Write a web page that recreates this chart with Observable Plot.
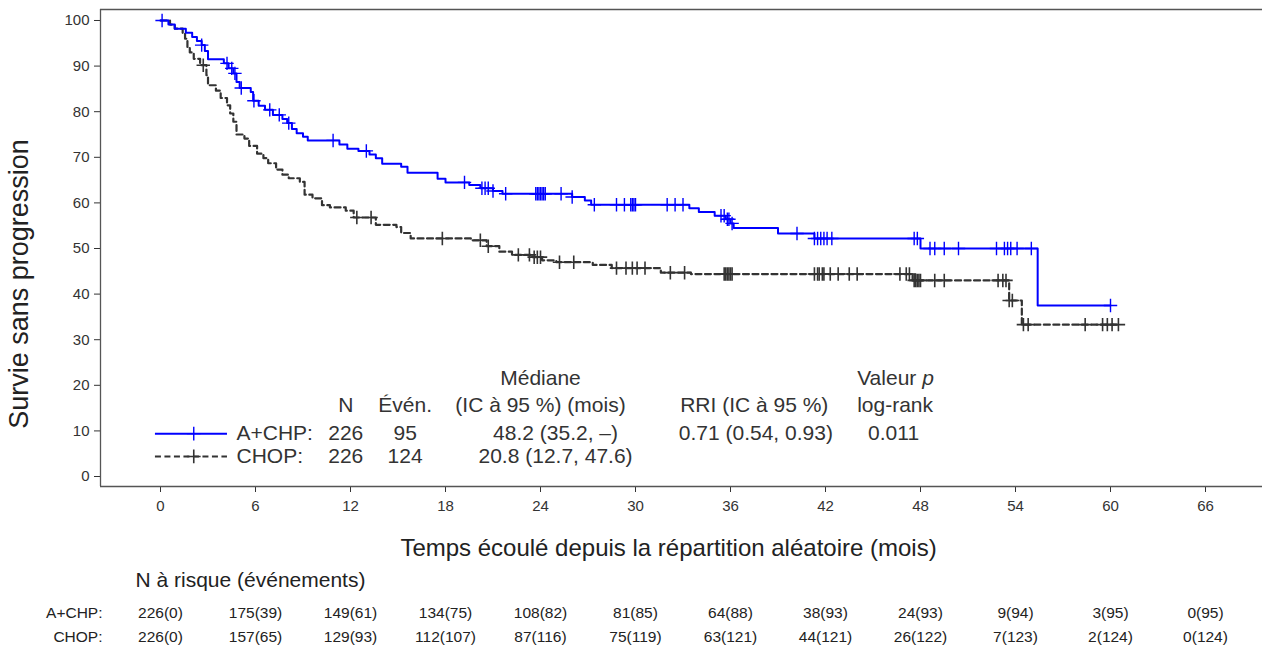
<!DOCTYPE html>
<html><head><meta charset="utf-8">
<script src="https://cdn.jsdelivr.net/npm/d3@7"></script>
<script src="https://cdn.jsdelivr.net/npm/@observablehq/plot@0.6"></script>
<style>body{margin:0;background:#fff;overflow:hidden} svg{display:block}</style>
</head><body><div id="chart"></div>
<script>
// ---------- data ----------
const groups = ["A+CHP", "CHOP"];

const achpTimes = [0, 0.5, 0.9, 1.6, 2.0, 2.3, 2.6, 2.8, 3.0, 4.0, 4.3, 4.6, 4.8, 5.0, 5.7, 5.85, 6.2, 6.6, 7.1, 7.7, 8.0, 8.3, 8.6, 9.0, 9.3, 11.3, 11.8, 12.5, 13.2, 13.6, 14.0, 15.2, 15.6, 17.5, 18.0, 19.5, 20.2, 21.0, 21.6, 26.0, 26.8, 27.2, 33.4, 34.0, 35.0, 35.7, 36.0, 36.2, 39.0, 41.3, 48.0, 55.4];
const achpSurv  = [100, 99.1, 98.2, 97.3, 96.4, 95.5, 94.6, 93.3, 91.5, 90.6, 89.5, 88.4, 86.5, 85.2, 84.3, 82.4, 81.3, 80.4, 79.3, 78.4, 77.5, 76.2, 75.3, 74.5, 73.7, 72.8, 71.9, 71.4, 70.6, 69.8, 68.6, 67.9, 66.6, 65.3, 64.5, 63.9, 63.2, 62.6, 62.0, 61.3, 60.5, 59.6, 58.8, 58.0, 57.2, 56.4, 55.5, 54.5, 53.3, 52.2, 50.0, 37.5];
const achpEnd = 60.0;
const achpCensor = [0.1, 2.6, 4.2, 4.5, 4.7, 5.1, 5.9, 6.9, 7.5, 8.1, 10.9, 13.0, 19.2, 20.3, 20.5, 20.7, 21.0, 21.8, 23.7, 23.8, 23.9, 24.0, 24.1, 24.2, 24.3, 25.3, 26.0, 27.4, 28.8, 29.3, 29.7, 29.8, 29.9, 30.0, 32.0, 32.5, 33.0, 35.4, 35.6, 35.8, 35.9, 36.1, 40.2, 41.3, 41.5, 41.7, 41.9, 42.1, 42.4, 47.6, 47.8, 48.6, 48.9, 49.5, 50.4, 52.8, 53.3, 53.5, 53.7, 54.1, 55.0, 60.0];

const chopTimes = [0, 0.6, 0.9, 1.4, 1.55, 1.7, 1.85, 2.1, 2.5, 2.9, 3.0, 3.5, 3.8, 4.2, 4.4, 4.6, 4.8, 5.3, 5.6, 6.1, 6.5, 6.8, 7.3, 7.7, 8.1, 8.8, 9.1, 9.6, 10.2, 10.7, 11.7, 12.2, 13.6, 14.9, 15.2, 15.8, 19.6, 20.6, 21.4, 22.2, 23.5, 24.1, 25.0, 27.3, 28.5, 31.6, 33.5, 47.5, 53.6, 54.4];
const chopSurv  = [100, 99.1, 98.2, 97.3, 96.0, 94.2, 93.0, 91.6, 90.2, 88.0, 85.8, 84.6, 83.0, 81.4, 79.6, 77.8, 75.0, 74.1, 72.5, 70.8, 69.8, 68.7, 67.3, 66.2, 65.4, 64.6, 61.8, 61.0, 59.5, 59.0, 58.3, 56.8, 55.2, 54.7, 53.4, 52.2, 51.8, 50.5, 49.3, 48.6, 48.1, 47.4, 47.0, 46.4, 45.7, 44.7, 44.4, 43.0, 38.6, 33.3];
const chopEnd = 60.5;
const chopCensor = [2.7, 12.4, 13.3, 17.8, 20.2, 20.7, 22.6, 23.3, 23.6, 23.8, 24.0, 25.2, 26.1, 28.8, 29.4, 29.8, 30.1, 30.6, 32.2, 33.1, 35.6, 35.7, 35.8, 35.9, 36.0, 36.1, 41.3, 41.5, 41.6, 41.8, 41.9, 42.3, 42.8, 43.5, 44.0, 46.7, 47.1, 47.3, 47.6, 47.7, 47.8, 47.9, 48.0, 48.9, 49.5, 52.9, 53.2, 53.4, 53.6, 53.8, 54.5, 54.8, 58.4, 59.5, 59.8, 60.1, 60.5];

const xTicks = [0, 6, 12, 18, 24, 30, 36, 42, 48, 54, 60, 66];
const yTicks = [0, 10, 20, 30, 40, 50, 60, 70, 80, 90, 100];

const riskTimes = [0, 6, 12, 18, 24, 30, 36, 42, 48, 54, 60, 66];
const riskACHP = ["226(0)", "175(39)", "149(61)", "134(75)", "108(82)", "81(85)", "64(88)", "38(93)", "24(93)", "9(94)", "3(95)", "0(95)"];
const riskCHOP = ["226(0)", "157(65)", "129(93)", "112(107)", "87(116)", "75(119)", "63(121)", "44(121)", "26(122)", "7(123)", "2(124)", "0(124)"];
const riskLabels = ["A+CHP:", "CHOP:"];

const legendNames = ["A+CHP:", "CHOP:"];
const legendN = ["226", "226"];
const legendEvents = ["95", "124"];
const legendMedian = ["48.2 (35.2, –)", "20.8 (12.7, 47.6)"];
const legendHR = ["0.71 (0.54, 0.93)"];
const legendP = ["0.011"];

const xTitle = "Temps écoulé depuis la répartition aléatoire (mois)";
const yTitle = "Survie sans progression";
const riskTitle = "N à risque (événements)";

// ---------- layout ----------
const xMin = -3.79, xMax = 69.6, yMin = -2.19, yMax = 102.41;
const L = { // legend layout in data units
  h1: 21.5, h2: 15.6, r1: 9.4, r2: 4.4,
  line0: -0.32, line1: 4.23, plus: 2.1,
  name: 4.8, n: 11.7, ev: 15.45, med: 24.0, medv: 24.95, hr: 37.5, hrv: 37.6, p: 44.0, pv: 46.3
};
const BLUE = "#0000ff", DARK = "#333333";

function steps(times, surv, end) {
  const pts = times.map((t, i) => ({t, s: surv[i]}));
  pts.push({t: end, s: surv[surv.length - 1]});
  return pts;
}
function survAt(times, surv, t) {
  let s = surv[0];
  for (let i = 0; i < times.length; i++) if (times[i] <= t) s = surv[i];
  return s;
}
const achpLine = steps(achpTimes, achpSurv, achpEnd);
const chopLine = steps(chopTimes, chopSurv, chopEnd);
const achpC = achpCensor.map(t => ({t, s: survAt(achpTimes, achpSurv, t)}));
const chopC = chopCensor.map(t => ({t, s: survAt(chopTimes, chopSurv, t)}));

const FS = 21, RS = 15.5;
const txt = (arr, x, y, opts = {}) => Plot.text(arr, {x: () => x, y: () => y, text: d => d, fontSize: FS, fill: DARK, ...opts});
const rowY = (d, i) => i ? L.r2 : L.r1;

const chart = Plot.plot({
  width: 1262, height: 646,
  marginLeft: 100, marginRight: 0, marginTop: 9, marginBottom: 160,
  style: {fontFamily: "Liberation Sans, Arial, sans-serif", fontSize: "15px", color: "#333", background: "#fff"},
  x: {domain: [xMin, xMax], ticks: xTicks, tickSize: 6, tickPadding: 8, label: null},
  y: {domain: [yMin, yMax], ticks: yTicks, tickSize: 6, tickPadding: 5, label: null},
  marks: [
    Plot.ruleY([yMax], {stroke: "#555", strokeWidth: 1.3}),
    Plot.ruleY([yMin], {stroke: "#555", strokeWidth: 1.3}),
    Plot.ruleX([xMin], {y1: yMin, y2: yMax, stroke: "#555", strokeWidth: 1.3}),
    Plot.line(chopLine, {x: "t", y: "s", curve: "step-after", stroke: DARK, strokeWidth: 2.2, strokeDasharray: "6,3.5"}),
    Plot.dot(chopC, {x: "t", y: "s", symbol: "plus", r: 4.4, stroke: DARK, strokeWidth: 1.6}),
    Plot.line(achpLine, {x: "t", y: "s", curve: "step-after", stroke: BLUE, strokeWidth: 2}),
    Plot.dot(achpC, {x: "t", y: "s", symbol: "plus", r: 4.4, stroke: BLUE, strokeWidth: 1.4}),
    // legend table
    txt(["Médiane"], L.med, L.h1),
    txt(["N"], L.n, L.h2),
    txt(["Évén."], L.ev, L.h2),
    txt(["(IC à 95 %) (mois)"], L.med, L.h2),
    txt(["RRI (IC à 95 %)"], L.hr, L.h2),
    txt(["Valeur p"], L.p, L.h1, {textAnchor: "start"}),
    txt(["log-rank"], L.p, L.h2, {textAnchor: "start"}),
    Plot.ruleY([L.r1], {x1: L.line0, x2: L.line1, stroke: BLUE, strokeWidth: 2}),
    Plot.dot([L.plus], {x: d => d, y: () => L.r1, symbol: "plus", r: 4.5, stroke: BLUE, strokeWidth: 1.4}),
    Plot.ruleY([L.r2], {x1: L.line0, x2: L.line1, stroke: DARK, strokeWidth: 2, strokeDasharray: "6,3.5"}),
    Plot.dot([L.plus], {x: d => d, y: () => L.r2, symbol: "plus", r: 4.5, stroke: DARK, strokeWidth: 1.6}),
    Plot.text(legendNames, {x: () => L.name, y: rowY, text: d => d, textAnchor: "start", fontSize: FS, fill: DARK}),
    Plot.text(legendN, {x: () => L.n, y: rowY, text: d => d, fontSize: FS, fill: DARK}),
    Plot.text(legendEvents, {x: () => L.ev, y: rowY, text: d => d, fontSize: FS, fill: DARK}),
    Plot.text(legendMedian, {x: () => L.medv, y: rowY, text: d => d, fontSize: FS, fill: DARK}),
    txt(legendHR, L.hrv, L.r1),
    txt(legendP, L.pv, L.r1),
    // titles
    Plot.text([yTitle], {frameAnchor: "left", textAnchor: "middle", lineAnchor: "middle", dx: -81, dy: 36, rotate: -90, text: d => d, fontSize: 27, fill: "#222"}),
    Plot.text([xTitle], {frameAnchor: "bottom", dx: -13, dy: 69, text: d => d, fontSize: 24, fill: "#222"}),
    Plot.text([riskTitle], {frameAnchor: "bottom-left", dx: 35, dy: 100, textAnchor: "start", text: d => d, fontSize: 21, fill: "#222"}),
    // risk table
    Plot.text(riskTimes, {x: d => d, text: (d, i) => riskACHP[i], frameAnchor: "bottom", dy: 131, fontSize: RS, fill: "#222"}),
    Plot.text(riskTimes, {x: d => d, text: (d, i) => riskCHOP[i], frameAnchor: "bottom", dy: 155, fontSize: RS, fill: "#222"}),
    Plot.text([riskLabels[0]], {text: d => d, frameAnchor: "bottom-left", dx: 2, dy: 131, textAnchor: "end", fontSize: RS, fill: "#222"}),
    Plot.text([riskLabels[1]], {text: d => d, frameAnchor: "bottom-left", dx: 2, dy: 155, textAnchor: "end", fontSize: RS, fill: "#222"})
  ]
});
document.getElementById("chart").appendChild(chart);

// italic p in "Valeur p"
d3.select(chart).selectAll("text").each(function () {
  if (this.textContent === "Valeur p") {
    this.textContent = "Valeur ";
    d3.select(this).append("tspan").attr("font-style", "italic").text("p");
  }
});
</script>
</body></html>
